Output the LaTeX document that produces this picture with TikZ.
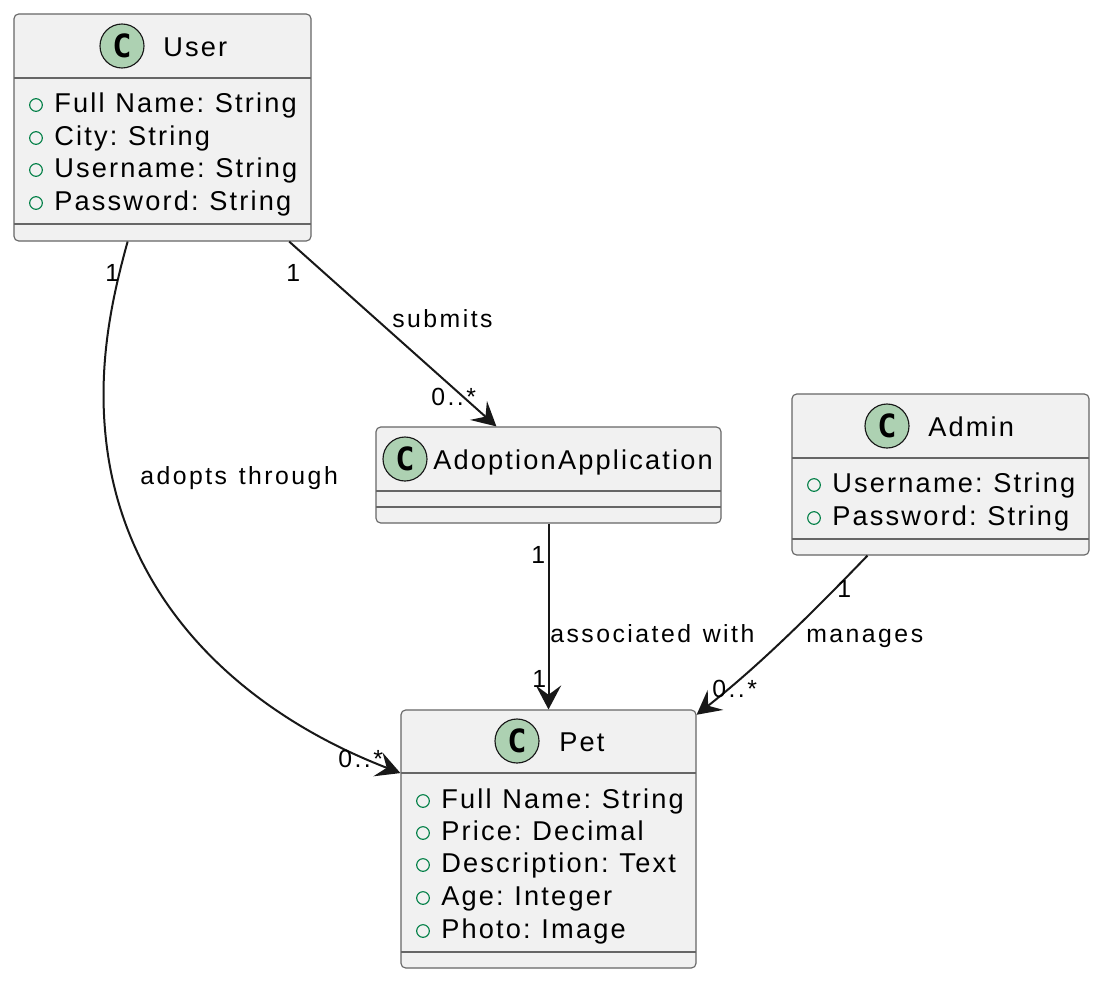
\documentclass[tikz,border=0pt]{standalone}
\usepackage{fontspec}
\setmainfont{Liberation Sans}
\newfontfamily\classfont[LetterSpace=8,WordSpace=1.1]{Liberation Sans}
\newfontfamily\edgefont[LetterSpace=10,WordSpace=1.25]{Liberation Sans}
\newfontfamily\badgefont{DejaVu Sans Mono}
\usetikzlibrary{arrows.meta}
\definecolor{boxfill}{HTML}{F1F1F1}
\definecolor{boxline}{HTML}{666666}
\definecolor{badgefill}{HTML}{ADD1B2}
\definecolor{plusgreen}{HTML}{038048}
\definecolor{inkdark}{HTML}{181818}
\tikzset{
	classbox/.style={draw=boxline, fill=boxfill, line width=0.85pt, rounded corners=3.5pt, inner sep=0pt},
	sepline/.style={draw=boxline, line width=0.85pt},
	badge/.style={circle, draw=inkdark, fill=badgefill, line width=0.85pt, minimum size=33pt, inner sep=0pt, font=\badgefont\fontsize{24}{24}\selectfont\bfseries},
	classtext/.style={anchor=base west, inner sep=0pt, text=black, font=\frenchspacing\classfont\fontsize{20.4}{24}\selectfont},
	edgetext/.style={anchor=base west, inner sep=0pt, text=black, font=\frenchspacing\edgefont\fontsize{18.6}{22}\selectfont},
	plusmark/.style={circle, draw=plusgreen, line width=0.85pt, minimum size=9.5pt, inner sep=0pt},
	assoc/.style={draw=inkdark, line width=1.5pt, -{Stealth[length=18pt, width=19pt, inset=7pt]}},
}
\begin{document}
\begin{tikzpicture}[x=0.75pt, y=-0.75pt]
	\useasboundingbox (0,0) rectangle (1102,982);

	% class boxes
	\node[classbox, minimum width=222.75pt, minimum height=170.25pt] (user) at (162.5,127.5) {};
	\node[classbox, minimum width=258.75pt, minimum height=72pt] (application) at (548.5,475) {};
	\node[classbox, minimum width=222.75pt, minimum height=120.75pt] (admin) at (940.5,474.5) {};
	\node[classbox, minimum width=221.25pt, minimum height=193.5pt] (pet) at (548.5,839) {};

	% User
	\node[badge] (userC) at (122,46) {C};
	\node[classtext] (userName) at (163,56) {User};
	\draw[sepline] (14,78) -- (311,78);
	\draw[sepline] (14,224) -- (311,224);
	\foreach \i/\ypos/\txt in {1/112/Full Name: String, 2/145/City: String, 3/177/Username: String, 4/210/Password: String} {
		\node[plusmark] (userP\i) at (36,\ypos-7) {};
		\node[classtext] (userM\i) at (54,\ypos) {\txt};
	}

	% AdoptionApplication
	\node[badge] (applicationC) at (405,459) {C};
	\node[classtext] (applicationName) at (433,469) {AdoptionApplication};
	\draw[sepline] (376,491) -- (721,491);
	\draw[sepline] (376,507) -- (721,507);

	% Admin
	\node[badge] (adminC) at (887,426) {C};
	\node[classtext] (adminName) at (928,436) {Admin};
	\draw[sepline] (792,458) -- (1089,458);
	\draw[sepline] (792,539) -- (1089,539);
	\foreach \i/\ypos/\txt in {1/492/Username: String, 2/525/Password: String} {
		\node[plusmark] (adminP\i) at (814,\ypos-7) {};
		\node[classtext] (adminM\i) at (832,\ypos) {\txt};
	}

	% Pet
	\node[badge] (petC) at (517,741) {C};
	\node[classtext] (petName) at (559,751) {Pet};
	\draw[sepline] (401,773) -- (696,773);
	\draw[sepline] (401,952) -- (696,952);
	\foreach \i/\ypos/\txt in {1/808/Full Name: String, 2/840/Price: Decimal, 3/872/Description: Text, 4/905/Age: Integer, 5/938/Photo: Image} {
		\node[plusmark] (petP\i) at (423,\ypos-7) {};
		\node[classtext] (petM\i) at (441,\ypos) {\txt};
	}

	% associations
	\draw[assoc] (user.-107.8) .. controls (110,305) and (96,375) .. (108,455) .. controls (132,612) and (250,715) .. (pet.156.5);
	\draw[assoc] (user.-42.1) -- (application.137);
	\draw[assoc] (application.south) -- (pet.north);
	\draw[assoc] (admin.-132.8) .. controls (815,610) and (760,665) .. (pet.40);

	% labels
	\node[edgetext] (adoptsOne) at (105,281) {1};
	\node[edgetext] (submitsOne) at (286,281) {1};
	\node[edgetext] (submitsLabel) at (392,327) {submits};
	\node[edgetext] (submitsMany) at (431,405) {0..*};
	\node[edgetext] (adoptsLabel) at (140,484) {adopts through};
	\node[edgetext] (adoptsMany) at (338,767) {0..*};
	\node[edgetext] (assocTop) at (531,563) {1};
	\node[edgetext] (assocLabel) at (550,642) {associated with};
	\node[edgetext] (assocBottom) at (532,687) {1};
	\node[edgetext] (managesOne) at (837,597) {1};
	\node[edgetext] (managesLabel) at (806,642) {manages};
	\node[edgetext] (managesMany) at (712,697) {0..*};
\end{tikzpicture}
\end{document}
